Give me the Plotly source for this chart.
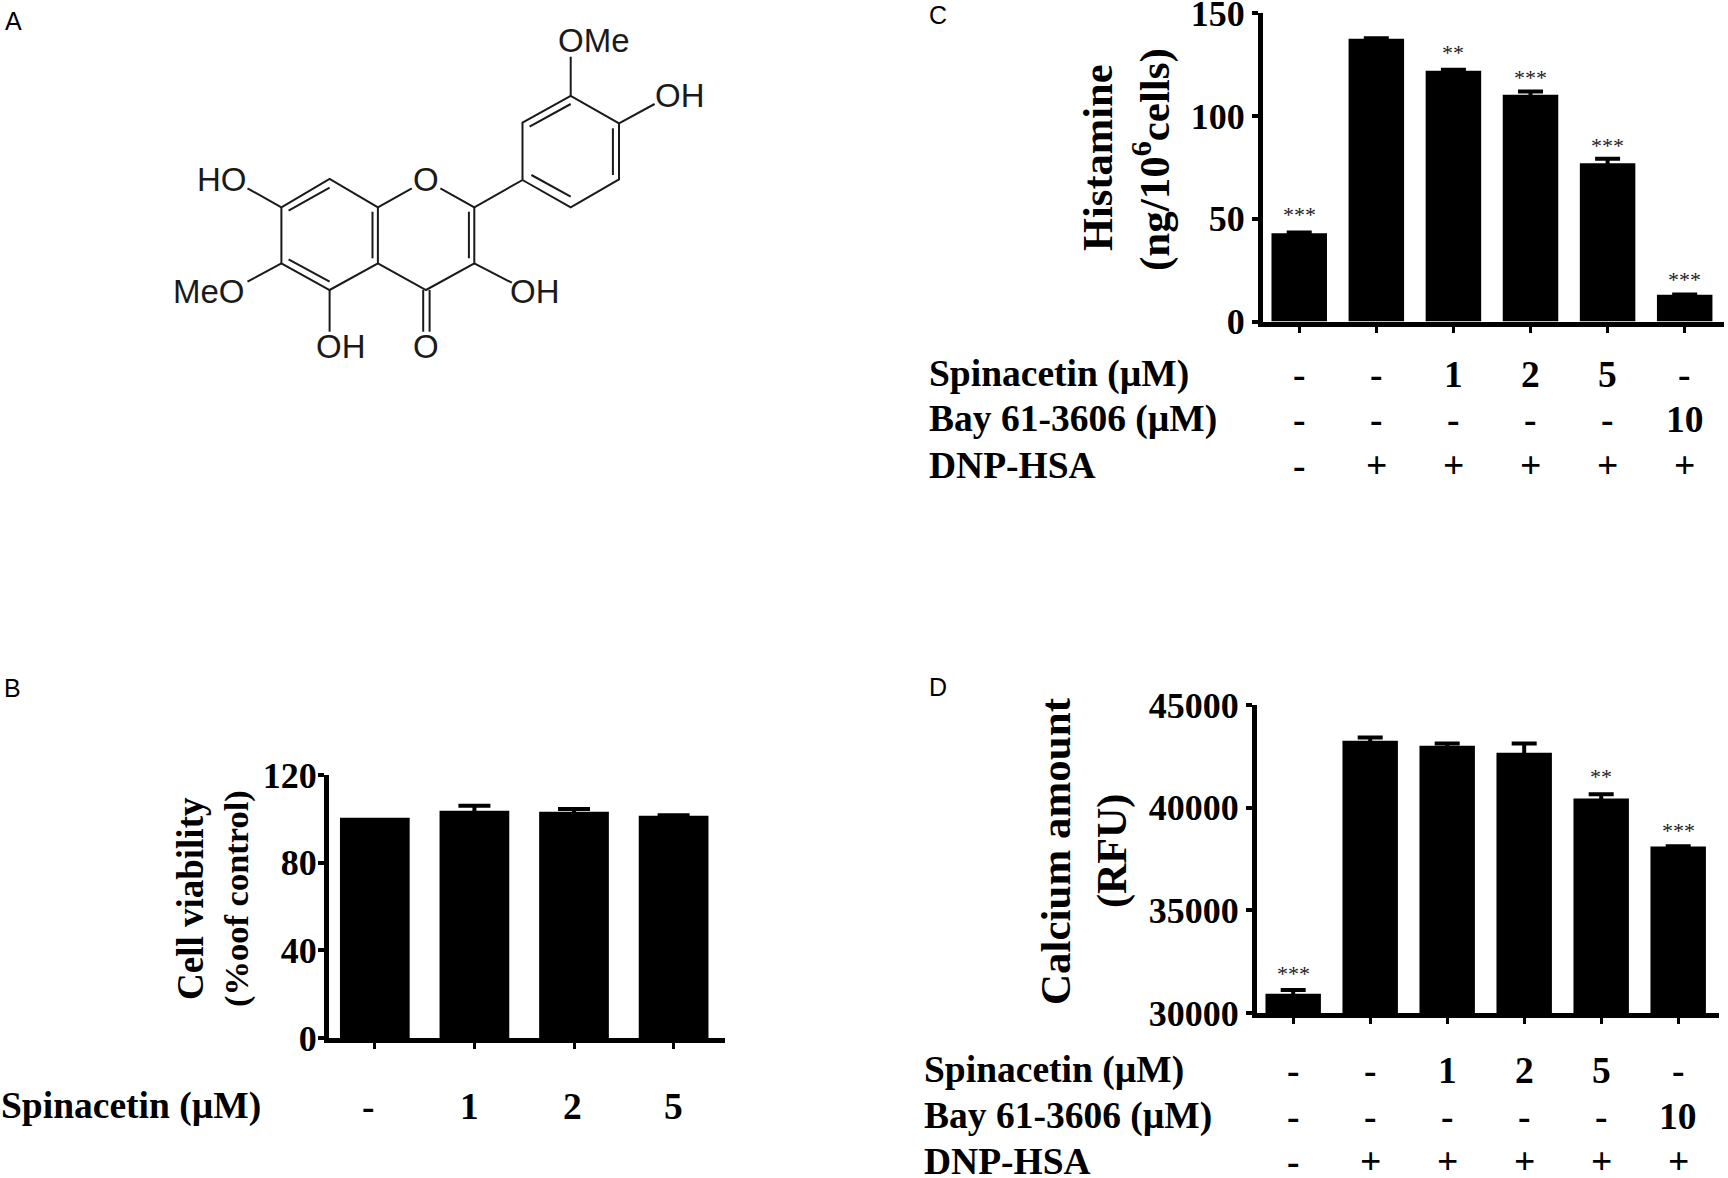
import plotly.graph_objects as go

W, H = 1728, 1178
SERIF = "Liberation Serif"
SANS = "Liberation Sans"

# ---------- data ----------
b_pos = [0, 1, 2, 3]
b_vals = [100.5, 103.7, 103.2, 101.4]
b_err = [0, 2.3, 1.3, 0.2]
b_spin = ["-", "1", "2", "5"]
b_spin_shift = [-6, -5, -2, 0]
b_ticks = [0, 40, 80, 120]

c_pos = [0, 1, 2, 3, 4, 5]
c_vals = [43, 137.6, 122, 110.4, 77, 13]
c_err = [0.3, 0.2, 0.5, 1.6, 2.2, 0.1]
c_stars = ["***", "", "**", "***", "***", "***"]
c_star_y = [53.3, 0, 132.2, 120.4, 87, 22]
c_ticks = [0, 50, 100, 150]

d_pos = [0, 1, 2, 3, 4, 5]
d_vals = [30937, 43254, 43011, 42672, 40441, 38114]
d_err = [178, 161, 113, 452, 210, 10]
d_stars = ["***", "", "", "", "**", "***"]
d_star_y = [32069, 0, 0, 0, 41686, 39051]
d_ticks = [30000, 35000, 40000, 45000]

spin_row = ["-", "-", "1", "2", "5", "-"]
bay_row = ["-", "-", "-", "-", "-", "10"]
dnp_row = ["-", "+", "+", "+", "+", "+"]
row_names = ["Spinacetin (µM)", "Bay 61-3606 (µM)", "DNP-HSA"]

# molecule skeleton
bond_x = [281.4, 329.6, 377.9, 377.9, 329.6, 281.4, 281.4, None,
          288.6, 329.6, None, 372.5, 372.5, None, 288.6, 329.6, None,
          377.9, 411.8, None, 440.4, 474.3, 474.3, 426, 377.9, None,
          468.9, 468.9, None, 423.2, 423.2, None, 429.6, 429.6, None,
          474.3, 511.8, None, 329.6, 329.6, None, 281.4, 247.5, None, 281.4, 247.5, None,
          474.3, 522.5, 522.5, 570.7, 619, 619, 570.7, 522.5, None,
          529.6, 570.7, None, 612.9, 612.9, None, 531.4, 570.7, None,
          570.7, 570.7, None, 619, 654.6]
bond_y = [207.3, 179, 207.3, 263.3, 290, 263.3, 207.3, None,
          210.7, 187.7, None, 211.7, 258.3, None, 259.3, 281.7, None,
          207.3, 188.3, None, 188.3, 207.3, 263.3, 290, 263.3, None,
          211.7, 258.3, None, 290, 331.7, None, 290, 331.7, None,
          263.3, 282.7, None, 290, 331.7, None, 207.3, 188.3, None, 263.3, 281.7, None,
          207.3, 180, 122.7, 96, 123.3, 179.3, 207.3, 180, None,
          126.7, 104, None, 128.3, 175, None, 175, 196.7, None,
          96, 56.7, None, 123.3, 104]
atom_text = ["O", "O", "OH", "OH", "MeO", "HO", "OMe", "OH"]
atom_x = [426, 426, 535, 341, 209, 222, 594, 679.6]
atom_y = [179, 346, 291, 346, 291, 179, 40, 95]


def dom_x(a, b):
    return [a / W, b / W]


def dom_y(top, bottom):
    return [1 - bottom / H, 1 - top / H]


fig = go.Figure()


def bars(pos, vals, err, xa, ya, cap, width=0.72):
    fig.add_trace(go.Bar(
        x=pos, y=vals, xaxis=xa, yaxis=ya, width=width,
        marker=dict(color="#000000", line=dict(width=0)),
        error_y=dict(type="data", array=err, symmetric=True, color="#000000",
                     thickness=4, width=cap) if err else None,
        showlegend=False,
    ))


# the first bar of panel B has no error bar
bars(b_pos[:1], b_vals[:1], None, "x", "y", 16, 0.70)
bars(b_pos[1:], b_vals[1:], b_err[1:], "x", "y", 16, 0.70)
bars(c_pos, c_vals, c_err, "x2", "y2", 12.5)
bars(d_pos, d_vals, d_err, "x3", "y3", 12.5)

fig.add_trace(go.Scatter(x=bond_x, y=bond_y, xaxis="x4", yaxis="y4", mode="lines",
                         line=dict(color="#1a1a1a", width=2), showlegend=False))

axis_common = dict(showline=True, linecolor="#000000", linewidth=5, ticks="outside", automargin=False,
                   tickcolor="#000000", showgrid=False, zeroline=False)


def x_axis(anchor, a, b, rng, tv):
    return dict(domain=dom_x(a, b), anchor=anchor, range=rng, tickvals=tv, showticklabels=False,
                ticklen=6, tickwidth=3, **axis_common)


def y_axis(anchor, top, bottom, rng, tv, fs=36, standoff=0):
    return dict(domain=dom_y(top, bottom), anchor=anchor, range=rng, tickvals=tv, ticklen=6, tickwidth=4,
                tickformat="d", ticklabeloverflow="allow", ticklabelstandoff=standoff,
                tickfont=dict(family=SERIF, size=fs, color="#000000", weight=700), **axis_common)


ann = []


def text(x, y, s, size, bold=True, xref="paper", yref="paper", anchor="center", angle=0,
         family=SERIF, xshift=0, yshift=0, color="#000000"):
    ann.append(dict(
        x=x / W if xref == "paper" else x,
        y=1 - y / H if yref == "paper" else y,
        xref=xref, yref=yref, text=s, showarrow=False, xanchor=anchor, yanchor="middle",
        textangle=angle, xshift=xshift, yshift=yshift,
        font=dict(family=family, size=size, color=color, weight=700 if bold else 400),
    ))


# panel letters
for letter, lx, ly in [("A", 13, 21), ("B", 12, 688), ("C", 938, 15), ("D", 938, 687)]:
    text(lx, ly, letter, 25, bold=False, family=SANS)

# axis titles
text(190, 899, "Cell viability", 37, angle=-90)
text(236, 899, "(%oof control)", 34.5, angle=-90)
text(1097, 158, "Histamine", 42.5, angle=-90)
text(1152, 160, "(ng/10<sup>6</sup>cells)", 43, angle=-90)
text(1055, 851, "Calcium amount", 43, angle=-90)
text(1112, 851, "(RFU)", 42, angle=-90)

# panel B row
text(-1, 1106, row_names[0], 37.5, anchor="left")
for p, s, dx in zip(b_pos, b_spin, b_spin_shift):
    text(p, 1106, s, 37.5, xref="x", xshift=dx)

# panel C rows
for name, row, ry in zip(row_names, [spin_row, bay_row, dnp_row], [374, 419, 465]):
    text(927, ry, name, 37.5, anchor="left")
    for p, s in zip(c_pos, row):
        text(p, ry, s, 37.5, xref="x2")
for p, s, sy in zip(c_pos, c_stars, c_star_y):
    if s:
        text(p, sy, s, 22, bold=False, xref="x2", yref="y2", yshift=-3, color="#222222")

# panel D rows
for name, row, ry in zip(row_names, [spin_row, bay_row, dnp_row], [1070, 1116, 1161]):
    text(922, ry, name, 37.5, anchor="left")
    for p, s in zip(d_pos, row):
        text(p, ry, s, 37.5, xref="x3")
for p, s, sy in zip(d_pos, d_stars, d_star_y):
    if s:
        text(p, sy, s, 22, bold=False, xref="x3", yref="y3", yshift=-3, color="#222222")

# molecule labels
for s, ax, ay in zip(atom_text, atom_x, atom_y):
    text(ax, ay, s, 33, bold=False, xref="x4", yref="y4", family=SANS, color="#1a1a1a")

fig.update_layout(
    width=W, height=H, margin=dict(l=0, r=0, t=0, b=0, pad=0), autosize=False,
    paper_bgcolor="#ffffff", plot_bgcolor="rgba(0,0,0,0)", barmode="overlay",
    # panel B
    xaxis=x_axis("y", 329, 725, [-0.46, 3.516], b_pos),
    yaxis=y_axis("x", 775, 1038, [0, 120], b_ticks, standoff=-6),
    # panel C
    xaxis2=x_axis("y2", 1263, 1724, [-0.47, 5.51], c_pos),
    yaxis2=y_axis("x2", 13.3, 321.5, [0, 150], c_ticks),
    # panel D
    xaxis3=x_axis("y3", 1257, 1719, [-0.47, 5.53], d_pos),
    yaxis3=y_axis("x3", 705, 1013, [30000, 45000], d_ticks),
    # molecule canvas (pixel-like units)
    xaxis4=dict(domain=[0, 1], anchor="y4", range=[0, W], visible=False, automargin=False),
    yaxis4=dict(domain=[0, 1], anchor="x4", range=[H, 0], visible=False, automargin=False),
    annotations=ann,
)

fig.write_html("out.html", config={"displayModeBar": False},
               post_script="document.body.style.margin='0';document.documentElement.style.overflow='hidden';")
